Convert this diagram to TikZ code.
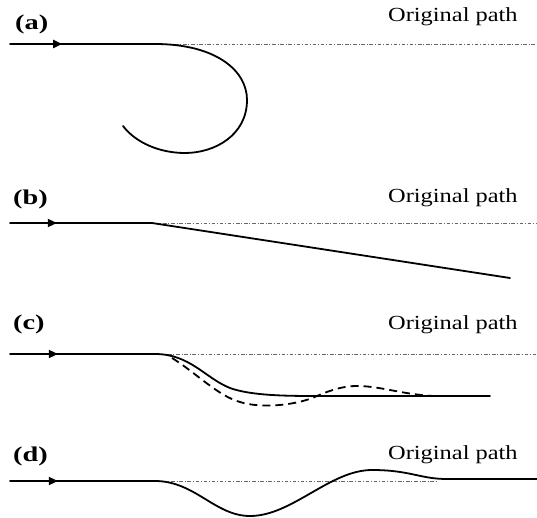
\documentclass[tikz,border=0pt]{standalone}
\usepackage{fontspec}
\setmainfont{Liberation Serif}
\usetikzlibrary{decorations.markings,arrows.meta}
\begin{document}
\begin{tikzpicture}[x=1pt,y=-1pt,
  orig/.style={draw=black!60, line width=0.8pt, dash pattern=on 3.5pt off 1.8pt on 1pt off 1.8pt},
  path/.style={line width=1.8pt, line cap=round},
  dashpath/.style={line width=1.8pt, dash pattern=on 8pt off 5pt},
  arrowmark/.style={postaction={decorate}, decoration={markings, mark=at position #1 with {\arrow{Triangle[length=9pt,width=8pt]}}}},
  lab/.style={anchor=base west, inner sep=0pt, font=\fontsize{21}{25}\selectfont\bfseries},
  otxt/.style={anchor=base west, inner sep=0pt, font=\fontsize{20}{24}\selectfont}]
\useasboundingbox (0,0) rectangle (537,518);
% (a)
\node[lab] (la) at (15,30) {\scalebox{1.35}[1]{(a)}};
\node[otxt] (oa) at (388,22) {\scalebox{1.22}[1]{Original path}};
\draw[orig] (175,44) -- (537,44);
\coordinate (a0) at (10,44);
\coordinate (a1) at (155,44);
\draw[path, arrowmark=0.36] (a0) -- (a1);
\draw[path] (a1) .. controls (215,44) and (247,70) .. (247,100)
  .. controls (247,135) and (215,153) .. (185,153)
  .. controls (160,153) and (136,143) .. (123,126);
% (b)
\node[lab] (lb) at (13,205) {\scalebox{1.35}[1]{(b)}};
\node[otxt] (ob) at (388,203) {\scalebox{1.22}[1]{Original path}};
\draw[orig] (155,223) -- (537,223);
\coordinate (b0) at (10,223);
\coordinate (b1) at (152,223);
\coordinate (b2) at (510,278);
\draw[path, arrowmark=0.33] (b0) -- (b1);
\draw[path] (b1) -- (b2);
% (c)
\node[lab] (lc) at (13,329) {\scalebox{1.35}[1]{(c)}};
\node[otxt] (oc) at (388,329) {\scalebox{1.22}[1]{Original path}};
\draw[orig] (160,354) -- (537,354);
\coordinate (c0) at (10,354);
\coordinate (c1) at (155,354);
\draw[path, arrowmark=0.33] (c0) -- (c1);
\draw[path] (c1) .. controls (190,354) and (205,378) .. (230,388)
  .. controls (252,396) and (290,396) .. (320,396) -- (490,396);
\draw[dashpath] (172,358) .. controls (195,372) and (218,396) .. (240,402)
  .. controls (262,409) and (298,405) .. (317,396)
  .. controls (333,389) and (345,386) .. (357,386)
  .. controls (380,386) and (400,394) .. (433,396);
% (d)
\node[lab] (ld) at (13,461) {\scalebox{1.35}[1]{(d)}};
\node[otxt] (od) at (388,459) {\scalebox{1.22}[1]{Original path}};
\draw[orig] (155,481) -- (437,481);
\coordinate (d0) at (10,481);
\coordinate (d1) at (155,481);
\draw[path, arrowmark=0.33] (d0) -- (d1);
\draw[path] (d1) .. controls (195,481) and (215,516) .. (250,516)
  .. controls (292,516) and (330,470) .. (372,470)
  .. controls (410,470) and (420,479) .. (447,479) -- (537,479);
\end{tikzpicture}
\end{document}
